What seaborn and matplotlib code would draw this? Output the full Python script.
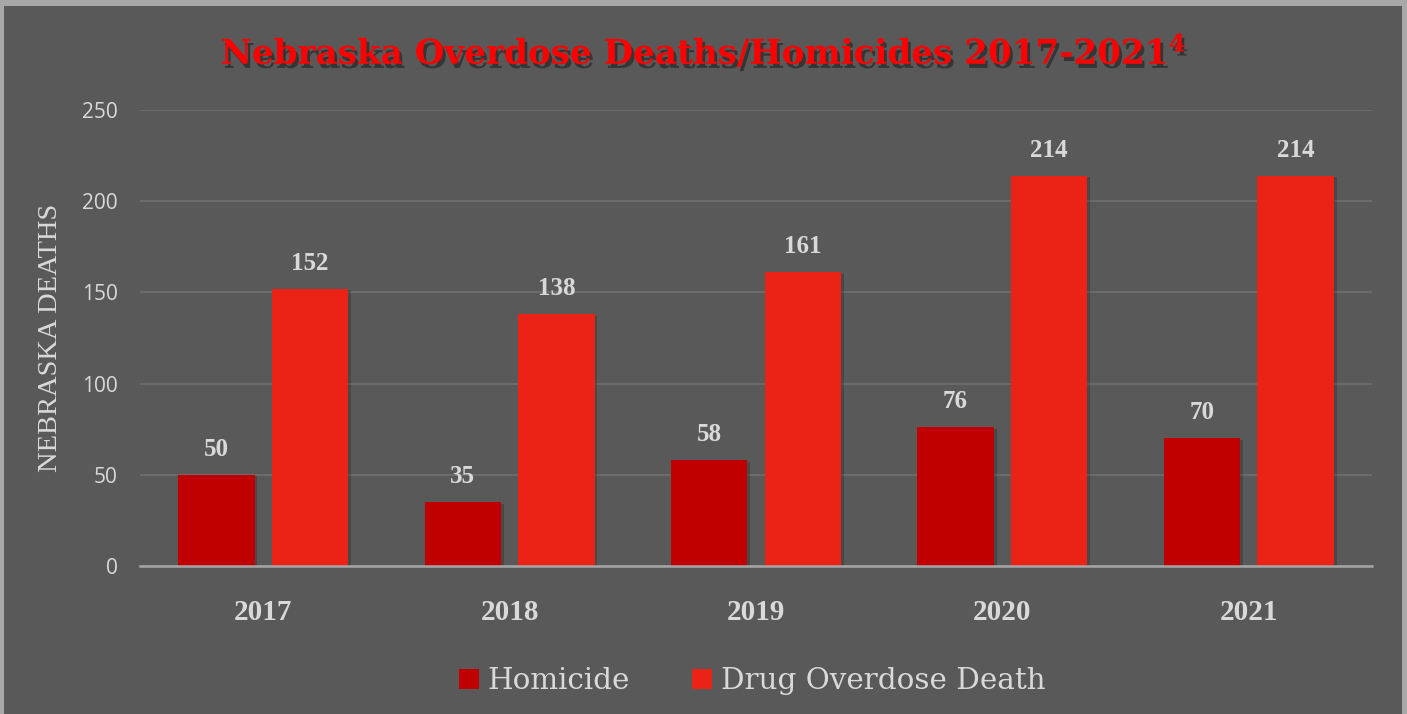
import matplotlib
matplotlib.use("Agg")
import matplotlib.pyplot as plt
import matplotlib.patheffects as pe
from matplotlib.patches import Rectangle
import seaborn as sns
import pandas as pd

years = ["2017", "2018", "2019", "2020", "2021"]
homicide = [50, 35, 58, 76, 70]
overdose = [152, 138, 161, 214, 214]
series_names = ["Homicide", "Drug Overdose Death"]
colors = ["#C00000", "#EB2316"]
y_ticks = [0, 50, 100, 150, 200, 250]

df = pd.DataFrame({
    "year": years * 2,
    "value": homicide + overdose,
    "series": [series_names[0]] * len(years) + [series_names[1]] * len(years),
})

sns.set_theme(style="dark")
plt.rcParams["font.family"] = ["Liberation Serif", "DejaVu Serif"]
plt.rcParams["mathtext.default"] = "regular"

W, H = 1407, 714
fig = plt.figure(figsize=(W / 100, H / 100), dpi=100)
fig.patch.set_facecolor("#A8A8A8")
fig.patches.append(Rectangle((4 / W, 0), (1402 - 4) / W, (H - 6) / H,
                             transform=fig.transFigure, facecolor="#595959",
                             edgecolor="none", zorder=-10))

ax = fig.add_axes([140 / W, 148 / H, (1372 - 140) / W, (566 - 110) / H])
ax.set_facecolor("none")
ax.set_zorder(1)

sns.barplot(data=df, x="year", y="value", hue="series", palette=colors,
            width=0.76, gap=0.184, saturation=1, ax=ax, legend=True,
            edgecolor="none", linewidth=0)

for p in ax.patches:
    p.set_path_effects([pe.SimplePatchShadow(offset=(2, -1), shadow_rgbFace="black", alpha=0.18), pe.Normal()])

for cont in ax.containers:
    ax.bar_label(cont, padding=10, color="#D9D9D9", fontsize=18,
                 fontweight="bold", family="Liberation Serif")

ax.set_ylim(0, 250)
ax.set_yticks(y_ticks)
ax.set_xlim(-0.5, 4.5)
ax.grid(axis="y", color="#6B6B6B", linewidth=1.5)
ax.grid(axis="x", visible=False)
ax.set_axisbelow(True)
for s in ["top", "right", "left"]:
    ax.spines[s].set_visible(False)
ax.spines["bottom"].set_color("#A6A6A6")
ax.spines["bottom"].set_linewidth(1.8)

ax.tick_params(axis="y", length=0, pad=16, labelsize=15, labelcolor="#D9D9D9")
for lab in ax.get_yticklabels():
    lab.set_family("Open Sans")
ax.tick_params(axis="x", length=0, pad=24, labelsize=21, labelcolor="#D9D9D9")
for lab in ax.get_xticklabels():
    lab.set_fontweight("bold")
    lab.set_family("Liberation Serif")

ax.set_xlabel("")
ax.set_ylabel("NEBRASKA DEATHS", fontsize=20.5, color="#D9D9D9", family="Liberation Serif")
ax.yaxis.set_label_coords(-(140 - 63) / (1372 - 140), 0.5)

handles, labels = ax.get_legend_handles_labels()
ax.get_legend().remove()
for h in handles:
    h.set_edgecolor("none")
    h.set_path_effects([])
leg = fig.legend(handles, labels, loc="center", ncol=2,
                 bbox_to_anchor=(752 / W, 33 / H), frameon=False,
                 handlelength=0.68, handleheight=0.68, handletextpad=0.3,
                 columnspacing=2.1, prop={"family": "DejaVu Serif", "size": 21.2})
for t in leg.get_texts():
    t.set_color("#D9D9D9")

fig.text(703 / W, 1 - 64 / H, "Nebraska Overdose Deaths/Homicides 2017-2021$^{4}$",
         ha="center", va="baseline", color="#FF0000", fontsize=24.6, fontweight="bold",
         family="DejaVu Serif",
         path_effects=[pe.SimplePatchShadow(offset=(2, -3), shadow_rgbFace="black", alpha=0.4), pe.Normal()])

fig.savefig("out.png", dpi=100, facecolor=fig.get_facecolor())
